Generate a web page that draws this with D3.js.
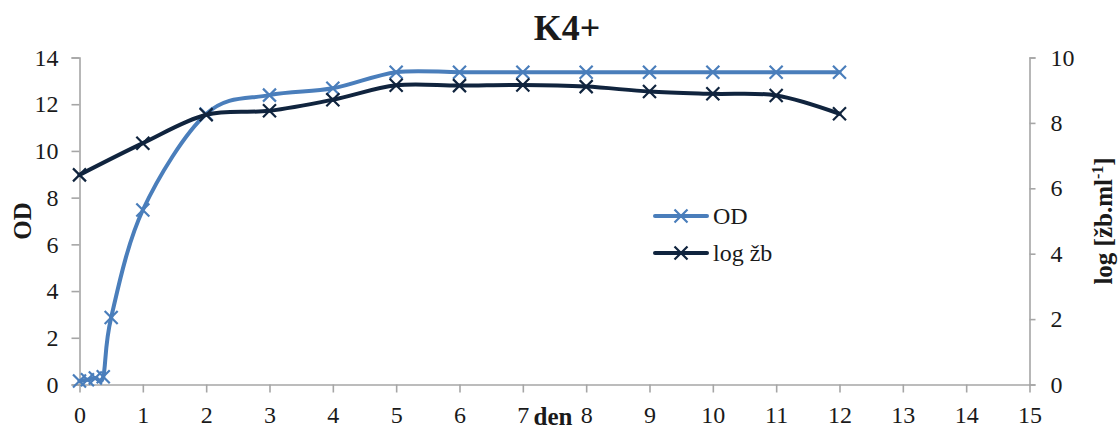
<!DOCTYPE html>
<html>
<head>
<meta charset="utf-8">
<script src="https://cdn.jsdelivr.net/npm/d3@7"></script>
<style>
  html, body { margin: 0; padding: 0; background: #fff; }
  svg { display: block; }
  text { font-family: "Liberation Serif", "Times New Roman", serif; fill: #1a1a1a; }
</style>
</head>
<body>
<svg id="chart" width="1118" height="430"></svg>
<script>
// Sampling times (days) and measured series
const odDays = [0, 0.125, 0.25, 0.375, 0.5, 1, 2, 3, 4, 5, 6, 7, 8, 9, 10, 11, 12];
const odValues = [0.15, 0.2, 0.28, 0.33, 2.87, 7.47, 11.58, 12.39, 12.68, 13.37, 13.37, 13.37, 13.37, 13.37, 13.37, 13.37, 13.37];
const logDays = [0, 1, 2, 3, 4, 5, 6, 7, 8, 9, 10, 11, 12];
const logValues = [6.41, 7.38, 8.25, 8.37, 8.71, 9.15, 9.14, 9.16, 9.11, 8.96, 8.89, 8.84, 8.28];

const xTicks = d3.range(0, 16, 1);
const odTicks = [0, 2, 4, 6, 8, 10, 12, 14];
const logTicks = [0, 2, 4, 6, 8, 10];

const title = "K4+";
const xLabel = "den";
const seriesNames = ["OD", "log žb"];

const colOD = "#4a7ebb";
const colLog = "#10243e";
const axisCol = "#a6a6a6";

const svg = d3.select("#chart");
const plot = { left: 79.5, right: 1029.5, top: 57.5, bottom: 384.5 };

const x = d3.scaleLinear().domain([0, 15]).range([plot.left, plot.right]);
const yOD = d3.scaleLinear().domain([0, 14]).range([plot.bottom, plot.top]);
const yLog = d3.scaleLinear().domain([0, 10]).range([plot.bottom, plot.top]);

// Axes
function styleAxis(g) {
  g.selectAll("path, line").attr("stroke", axisCol).attr("stroke-width", 1.6);
  g.selectAll("text").attr("font-size", 24).attr("fill", "#1a1a1a")
    .attr("font-family", "'Liberation Serif', 'Times New Roman', serif");
}

const gx = svg.append("g")
  .attr("transform", `translate(0,${plot.bottom})`)
  .call(d3.axisBottom(x).tickValues(xTicks).tickFormat(d3.format("d")).tickSize(8).tickSizeOuter(0).tickPadding(9));
styleAxis(gx);
gx.selectAll("text").attr("dy", "0.9em");

const gl = svg.append("g")
  .attr("transform", `translate(${plot.left},0)`)
  .call(d3.axisLeft(yOD).tickValues(odTicks).tickFormat(d3.format("d")).tickSize(8).tickSizeOuter(8).tickPadding(13));
styleAxis(gl);

const gr = svg.append("g")
  .attr("transform", `translate(${plot.right},0)`)
  .call(d3.axisRight(yLog).tickValues(logTicks).tickFormat(d3.format("d")).tickSize(6).tickSizeOuter(6).tickPadding(15));
styleAxis(gr);

// Smoothed series lines
const curve = d3.curveCardinal.tension(0);

function drawSeries(xs, ys, yScale, color) {
  const pts = xs.map((d, i) => [x(d), yScale(ys[i])]);
  svg.append("path")
    .attr("d", d3.line().curve(curve)(pts))
    .attr("fill", "none")
    .attr("stroke", color)
    .attr("stroke-width", 4)
    .attr("stroke-linecap", "round")
    .attr("stroke-linejoin", "round");
  const s = 6.5;
  svg.append("g").selectAll("path")
    .data(pts)
    .join("path")
    .attr("d", p => `M${p[0]-s},${p[1]-s}L${p[0]+s},${p[1]+s}M${p[0]-s},${p[1]+s}L${p[0]+s},${p[1]-s}`)
    .attr("stroke", color)
    .attr("stroke-width", 2.2)
    .attr("fill", "none");
}

drawSeries(odDays, odValues, yOD, colOD);
drawSeries(logDays, logValues, yLog, colLog);

// Title
svg.append("text")
  .attr("x", 567).attr("y", 40)
  .attr("text-anchor", "middle")
  .attr("font-size", 36).attr("font-weight", "bold")
  .text(title);

// X axis title sits between ticks 7 and 8
svg.append("text")
  .attr("x", 553).attr("y", 425)
  .attr("text-anchor", "middle")
  .attr("font-size", 25).attr("font-weight", "bold")
  .text(xLabel);

// Left axis title
svg.append("text")
  .attr("transform", "translate(31,221) rotate(-90)")
  .attr("text-anchor", "middle")
  .attr("font-size", 25).attr("font-weight", "bold")
  .text("OD");

// Right axis title with superscript
const rt = svg.append("text")
  .attr("transform", "translate(1112,221) rotate(-90)")
  .attr("text-anchor", "middle")
  .attr("font-size", 25).attr("font-weight", "bold");
rt.append("tspan").text("log [žb.ml");
rt.append("tspan").attr("dy", -9).attr("font-size", 16).text("-1");
rt.append("tspan").attr("dy", 9).text("]");

// Legend
const legend = svg.append("g");
[[colOD, 216], [colLog, 253]].forEach(([c, ly], i) => {
  legend.append("line")
    .attr("x1", 655).attr("x2", 707).attr("y1", ly).attr("y2", ly)
    .attr("stroke", c).attr("stroke-width", 4).attr("stroke-linecap", "round");
  const cx = 681, s = 6.5;
  legend.append("path")
    .attr("d", `M${cx-s},${ly-s}L${cx+s},${ly+s}M${cx-s},${ly+s}L${cx+s},${ly-s}`)
    .attr("stroke", c).attr("stroke-width", 2.2);
  legend.append("text")
    .attr("x", 713).attr("y", ly + 8)
    .attr("font-size", 24)
    .text(seriesNames[i]);
});
</script>
</body>
</html>
